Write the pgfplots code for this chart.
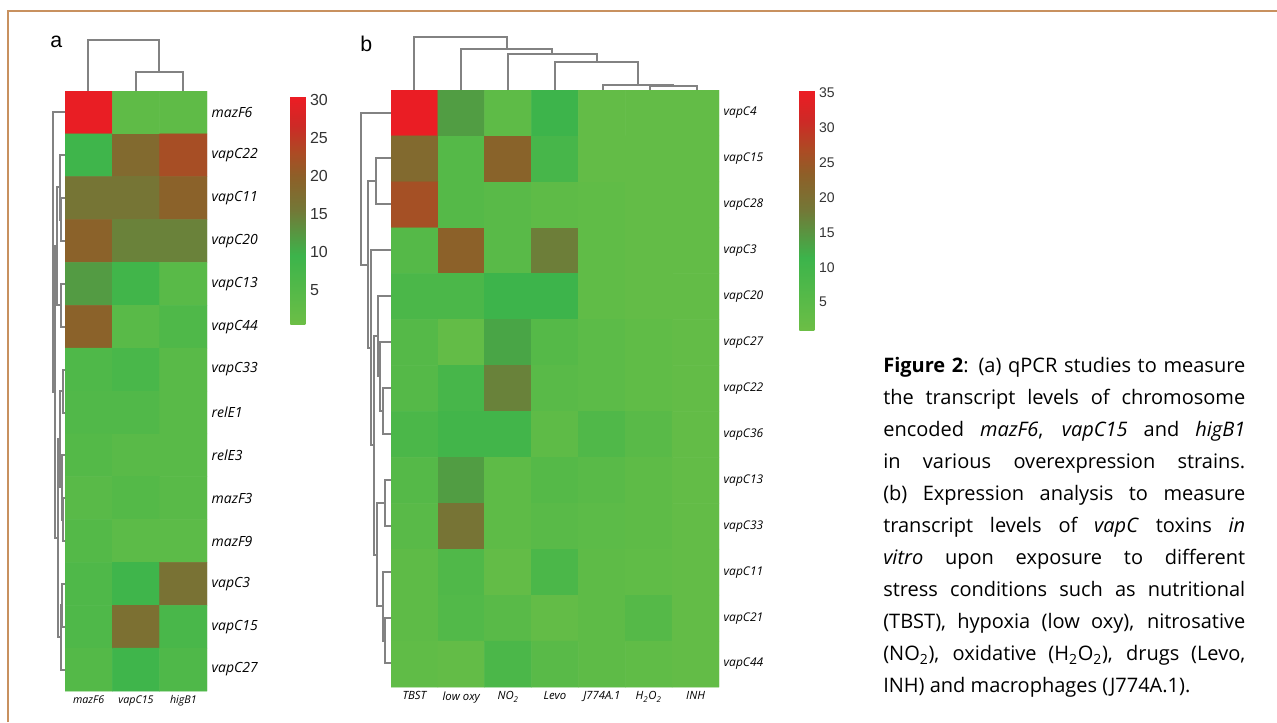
\documentclass[border=0pt]{standalone}
\usepackage{fontspec}
\setmainfont{Liberation Sans}
\newfontfamily\capfont{Open Sans}
\newfontfamily\labfont{Open Sans}
\usepackage{pgfplots}
\pgfplotsset{compat=1.18}
\pgfplotsset{colormap={rg}{rgb255(0cm)=(108,190,70); rgb255(3cm)=(60,180,75); rgb255(5cm)=(115,120,55); rgb255(6.5cm)=(142,95,40); rgb255(7.5cm)=(172,75,36); rgb255(8.7cm)=(205,42,38); rgb255(10cm)=(237,28,36)}}
\definecolor{framec}{RGB}{200,145,95}
\definecolor{dendro}{RGB}{130,130,130}
\begin{document}
\begin{tikzpicture}
\path[use as bounding box] (0pt,0pt) rectangle (957.75pt,-541.5pt);
% overlay axis in pixel units
\begin{axis}[at={(0pt,0pt)}, anchor=north west, scale only axis,
  width=957.75pt, height=541.5pt, xmin=0, xmax=1277, ymin=0, ymax=722,
  y dir=reverse, hide axis, clip=false]
\addplot[draw=framec, line width=1.2pt] coordinates {(8,722) (8,11) (1277,11)};
\addplot[draw=dendro, line width=0.8pt, unbounded coords=jump] coordinates {
(88,91) (88,40) (159,40) (159,72) (nan,nan)
(136,91) (136,72) (183,72) (183,91) (nan,nan)
(65,198) (61,198) (61,241) (65,241) (nan,nan)
(65,155) (60,155) (60,220) (61,220) (nan,nan)
(65,284) (61,284) (61,327) (65,327) (nan,nan)
(60,187) (57,187) (57,305) (61,305) (nan,nan)
(65,370) (63,370) (63,413) (65,413) (nan,nan)
(65,498) (63,498) (63,541) (65,541) (nan,nan)
(65,455) (62,455) (62,520) (63,520) (nan,nan)
(63,391) (60,391) (60,487) (62,487) (nan,nan)
(65,584) (62,584) (62,627) (65,627) (nan,nan)
(62,605) (61,605) (61,670) (65,670) (nan,nan)
(60,439) (58,439) (58,637) (61,637) (nan,nan)
(57,246) (55,246) (55,538) (58,538) (nan,nan)
(65,112) (53,112) (53,392) (55,392) (nan,nan)
(414,90) (414,37) (507,37) (507,49) (nan,nan)
(461,90) (461,49) (552,49) (552,54) (nan,nan)
(508,90) (508,54) (597,54) (597,62) (nan,nan)
(555,90) (555,62) (638,62) (638,85) (nan,nan)
(603,90) (603,85) (673,85) (673,86) (nan,nan)
(650,90) (650,86) (697,86) (697,90) (nan,nan)
(391,158) (376,158) (376,204) (391,204) (nan,nan)
(391,388) (383,388) (383,434) (391,434) (nan,nan)
(391,342) (380,342) (380,411) (383,411) (nan,nan)
(391,296) (378,296) (378,376) (380,376) (nan,nan)
(391,480) (385,480) (385,526) (391,526) (nan,nan)
(391,618) (385,618) (385,663) (391,663) (nan,nan)
(391,572) (383,572) (383,641) (385,641) (nan,nan)
(385,503) (377,503) (377,606) (383,606) (nan,nan)
(378,336) (374,336) (374,555) (377,555) (nan,nan)
(391,250) (371,250) (371,445) (374,445) (nan,nan)
(376,181) (368,181) (368,348) (371,348) (nan,nan)
(391,113) (361,113) (361,265) (368,265)
};
\node[anchor=base west, inner sep=0pt, font=\fontsize{16}{18}\selectfont] at (axis cs:50,47) {a};
\node[anchor=base west, inner sep=0pt, font=\fontsize{16}{18}\selectfont] at (axis cs:360,51) {b};
\node[anchor=north west, inner sep=0pt, text width=271.5pt, align=justify,
  font=\capfont\fontsize{15}{24}\selectfont] at (axis cs:883,357) {%
\textbf{Figure 2}: (a) qPCR studies to measure\linebreak
the transcript levels of chromosome\linebreak
encoded \textit{mazF6}, \textit{vapC15} and \textit{higB1}\linebreak
in various overexpression strains.\linebreak
(b) Expression analysis to measure\linebreak
transcript levels of \textit{vapC} toxins \textit{in}\linebreak
\textit{vitro} upon exposure to different\linebreak
stress conditions such as nutritional\linebreak
(TBST), hypoxia (low oxy), nitrosative\linebreak
(NO\textsubscript{2}), oxidative (H\textsubscript{2}O\textsubscript{2}), drugs (Levo,\linebreak
INH) and macrophages (J774A.1).};
\end{axis}
% heatmap a
\begin{axis}[at={(48.75pt,-68.25pt)}, anchor=north west, scale only axis,
  width=106.5pt, height=450pt, xmin=-0.5, xmax=2.5, ymin=-0.5, ymax=13.5,
  y dir=reverse, enlargelimits=false,
  axis line style={draw=none}, tick style={draw=none},
  xtick={0,1,2}, xticklabels={mazF6,vapC15,higB1},
  ytick={0,...,13},
  yticklabels={mazF6,vapC22,vapC11,vapC20,vapC13,vapC44,vapC33,relE1,relE3,mazF3,mazF9,vapC3,vapC15,vapC27},
  yticklabel pos=right,
  xticklabel style={font=\labfont\itshape\fontsize{8}{9}\selectfont},
  yticklabel style={font=\labfont\itshape\fontsize{10.5}{12}\selectfont},
  colormap name=rg, point meta min=0.5, point meta max=30.5,
  colorbar,
  colorbar style={at={(parent axis.north east)}, anchor=north west,
    xshift=54pt, yshift=-3.75pt, scale only axis, width=11.25pt, height=171pt,
    axis line style={draw=none}, tick style={draw=none},
    ytick={5,10,...,30},
    yticklabel style={font=\fontsize{12}{14}\selectfont, text=black!80},
    /pgf/number format/assume math mode=true}]
\addplot[matrix plot*, mesh/cols=3, point meta=explicit] table[meta=c] {
x y c
0 0 30
1 0 3
2 0 3
0 1 9
1 1 18
2 1 22.5
0 2 16
1 2 16
2 2 19.5
0 3 19.5
1 3 14.5
2 3 14.5
0 4 12
1 4 8.5
2 4 4
0 5 19.5
1 5 4
2 5 6
0 6 6
1 6 7
2 6 4
0 7 5.5
1 7 5.5
2 7 4
0 8 5
1 8 4
2 8 4
0 9 4
1 9 5
2 9 4
0 10 5
1 10 3.5
2 10 3.5
0 11 6
1 11 9
2 11 16.5
0 12 6
1 12 17
2 12 7
0 13 5
1 13 9
2 13 6
};
\end{axis}
% heatmap b
\begin{axis}[at={(293.25pt,-67.5pt)}, anchor=north west, scale only axis,
  width=246pt, height=447.75pt, xmin=-0.5, xmax=6.5, ymin=-0.5, ymax=12.5,
  y dir=reverse, enlargelimits=false,
  axis line style={draw=none}, tick style={draw=none},
  xtick={0,...,6},
  xticklabels={TBST,low oxy,NO\textsubscript{2},Levo,J774A.1,H\textsubscript{2}O\textsubscript{2},INH},
  ytick={0,...,12},
  yticklabels={vapC4,vapC15,vapC28,vapC3,vapC20,vapC27,vapC22,vapC36,vapC13,vapC33,vapC11,vapC21,vapC44},
  yticklabel pos=right,
  xticklabel style={font=\labfont\itshape\fontsize{8.5}{10}\selectfont},
  yticklabel style={font=\labfont\itshape\fontsize{9}{11}\selectfont},
  colormap name=rg, point meta min=1, point meta max=35.4,
  colorbar,
  colorbar style={at={(parent axis.north east)}, anchor=north west,
    xshift=51.75pt, yshift=0pt, scale only axis, width=11.25pt, height=180pt,
    axis line style={draw=none}, tick style={draw=none},
    ytick={5,10,...,35},
    yticklabel style={font=\fontsize{10.5}{12}\selectfont, text=black!80},
    /pgf/number format/assume math mode=true}]
\addplot[matrix plot*, mesh/cols=7, point meta=explicit] table[meta=c] {
x y c
0 0 35
1 0 14
2 0 4
3 0 11
4 0 3
5 0 3
6 0 3
0 1 21
1 1 6
2 1 22.5
3 1 9
4 1 3
5 1 3
6 1 3
0 2 26
1 2 6
2 2 5
3 2 4
4 2 3.5
5 2 3
6 2 3
0 3 6
1 3 23
2 3 5
3 3 17.5
4 3 3.5
5 3 3
6 3 3
0 4 8
1 4 8
2 4 11
3 4 11
4 4 3.5
5 4 3
6 4 3
0 5 6
1 5 3
2 5 13
3 5 6
4 5 4.5
5 5 3.5
6 5 3
0 6 6
1 6 9
2 6 17
3 6 5
4 6 4.5
5 6 3.5
6 6 3
0 7 8
1 7 10
2 7 10
3 7 4
4 7 7
5 7 5
6 7 3
0 8 6
1 8 14
2 8 4
3 8 6
4 8 5
5 8 4
6 8 3
0 9 5
1 9 19
2 9 4
3 9 5
4 9 4.5
5 9 4
6 9 3
0 10 4
1 10 7
2 10 3
3 10 8
4 10 4
5 10 3.5
6 10 3
0 11 4
1 11 6.5
2 11 5
3 11 3
4 11 4
5 11 6
6 11 3
0 12 3.5
1 12 3
2 12 8
3 12 5
4 12 4
5 12 3.5
6 12 3
};
\end{axis}
\end{tikzpicture}
\end{document}
